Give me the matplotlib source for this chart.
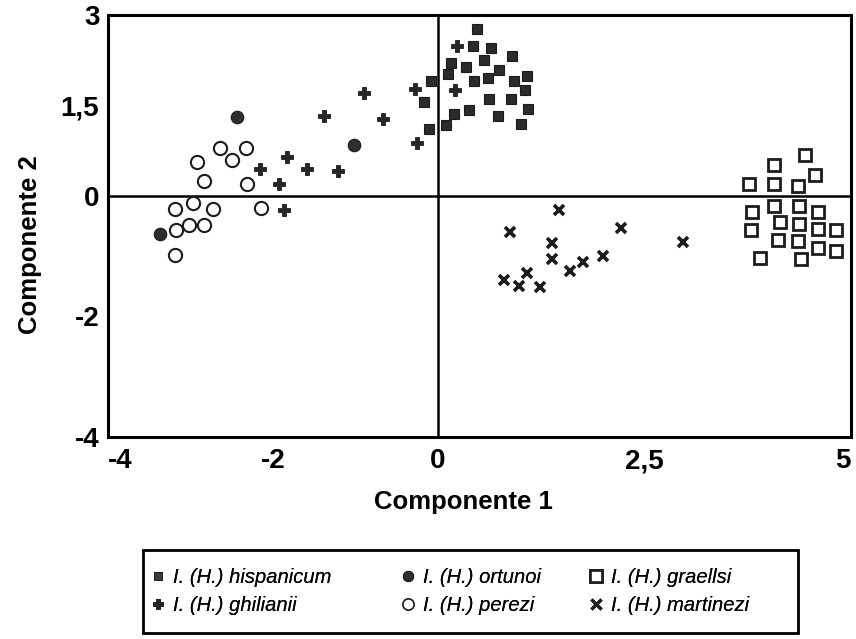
import matplotlib
matplotlib.use("Agg")
import matplotlib.pyplot as plt
from matplotlib.lines import Line2D
from matplotlib.patches import Rectangle
from matplotlib import font_manager as fm

# ---------------- data ----------------
hispanicum_x = [0.47, 0.42, 0.64, 0.90, 0.56, 0.16, 0.34, 0.74, 0.12, 1.08, 0.60, 0.44, 0.92,
                -0.09, 1.05, 0.62, 0.88, -0.17, 1.09, 0.38, 0.19, 0.72, 1.00, 0.10, -0.11]
hispanicum_y = [2.76, 2.48, 2.45, 2.32, 2.26, 2.21, 2.13, 2.09, 2.02, 1.98, 1.95, 1.90, 1.90,
                1.90, 1.76, 1.60, 1.60, 1.55, 1.44, 1.42, 1.36, 1.33, 1.20, 1.17, 1.11]

ghilianii_x = [0.23, -0.90, -0.28, 0.21, -1.38, -0.67, -0.25, -1.83, -2.16, -1.59, -1.21, -1.93, -1.87]
ghilianii_y = [2.49, 1.70, 1.78, 1.75, 1.32, 1.27, 0.87, 0.65, 0.44, 0.44, 0.41, 0.20, -0.23]

ortunoi_x = [-2.44, -1.02, -3.37]
ortunoi_y = [1.31, 0.85, -0.64]

perezi_x = [-2.64, -2.33, -2.92, -2.49, -2.83, -2.31, -2.97, -3.19, -2.73, -2.14, -3.02, -3.17, -2.83, -3.19]
perezi_y = [0.79, 0.79, 0.56, 0.60, 0.24, 0.19, -0.12, -0.21, -0.21, -0.20, -0.48, -0.57, -0.48, -0.98]

graellsi_x = [4.44, 4.07, 4.56, 3.76, 4.07, 4.36, 4.07, 4.37, 3.80, 4.60, 4.14, 4.37, 4.60, 3.79,
              4.82, 4.12, 4.36, 4.60, 4.82, 3.90, 4.39]
graellsi_y = [0.68, 0.51, 0.35, 0.19, 0.19, 0.17, -0.17, -0.17, -0.27, -0.27, -0.44, -0.46, -0.55, -0.57,
              -0.57, -0.73, -0.75, -0.86, -0.91, -1.03, -1.04]

martinezi_x = [1.46, 0.87, 2.21, 2.97, 1.38, 1.38, 2.00, 1.75, 1.60, 1.08, 0.80, 0.98, 1.23]
martinezi_y = [-0.24, -0.60, -0.53, -0.77, -0.79, -1.04, -1.00, -1.09, -1.24, -1.28, -1.40, -1.49, -1.52]

x_ticks = [-4, -2, 0, 2.5, 5]
x_ticklabels = ["-4", "-2", "0", "2,5", "5"]
y_ticks = [-4, -2, 0, 1.5, 3]
y_ticklabels = ["-4", "-2", "0", "1,5", "3"]

labels = ["I. (H.) hispanicum", "I. (H.) ghilianii", "I. (H.) ortunoi",
          "I. (H.) perezi", "I. (H.) graellsi", "I. (H.) martinezi"]

# ---------------- fonts ----------------
plt.rcParams['font.family'] = ['Liberation Sans', 'DejaVu Sans']
try:
    fm.findfont(fm.FontProperties(family='Liberation Sans Narrow', weight='bold'),
                fallback_to_default=False)
    bold_family = ['Liberation Sans Narrow', 'Liberation Sans']
    tick_size, label_size = 21, 21
except Exception:
    bold_family = ['Liberation Sans', 'DejaVu Sans']
    tick_size, label_size = 20, 18.5

# ---------------- figure ----------------
W, H = 856, 639
fig = plt.figure(figsize=(W / 100, H / 100), dpi=100)
L, R, T, B = 107.7, 851, 15, 437
ax = fig.add_axes([L / W, 1 - B / H, (R - L) / W, (B - T) / H])

ax.set_xlim(-4, 5)
ax.set_ylim(-4, 3)
ax.axhline(0, color='black', lw=1.8, zorder=1)
ax.axvline(0, color='black', lw=1.8, zorder=1)

ink = '#1c1c1c'
ax.plot(hispanicum_x, hispanicum_y, ls='none', marker='s', ms=7, mfc='#2b2b2b', mec=ink, mew=0.8, zorder=3)
ax.plot(ghilianii_x, ghilianii_y, ls='none', marker='P', ms=8.5, mfc='#262626', mec=ink, mew=0.6, zorder=3)
ax.plot(ortunoi_x, ortunoi_y, ls='none', marker='o', ms=9, mfc='#2e2e2e', mec=ink, mew=0.8, zorder=3)
ax.plot(perezi_x, perezi_y, ls='none', marker='o', ms=9.5, mfc='white', mec=ink, mew=1.5, zorder=3)
ax.plot(graellsi_x, graellsi_y, ls='none', marker='s', ms=8.5, mfc='white', mec=ink, mew=2.0, zorder=3)
ax.plot(martinezi_x, martinezi_y, ls='none', marker='x', ms=7, mec=ink, mew=2.6, zorder=3)

for s in ax.spines.values():
    s.set_linewidth(2.2)
    s.set_color('black')

ax.set_xticks(x_ticks)
ax.set_xticklabels(x_ticklabels)
ax.set_yticks(y_ticks)
ax.set_yticklabels(y_ticklabels)
ax.tick_params(axis='both', length=0, labelsize=tick_size)
ax.tick_params(axis='x', pad=8)
ax.tick_params(axis='y', pad=6)
for t in ax.get_xticklabels() + ax.get_yticklabels():
    t.set_fontweight('bold')
    t.set_family(bold_family)
xtl = ax.get_xticklabels()
xtl[0].set_horizontalalignment('left')
xtl[-1].set_horizontalalignment('right')

ax.set_xlabel("Componente 1", fontsize=label_size, fontweight='bold', family=bold_family)
ax.set_ylabel("Componente 2", fontsize=label_size, fontweight='bold', family=bold_family)
ax.xaxis.set_label_coords(0.479, -0.125)
ax.yaxis.set_label_coords(-0.088, 0.455)

# ---------------- legend ----------------
h_hisp = Line2D([], [], ls='none', marker='s', ms=5.5, mfc='#3a3a3a', mec=ink, mew=0.6)
h_ghil = Line2D([], [], ls='none', marker='P', ms=7.5, mfc='#262626', mec=ink, mew=0.5)
h_ortu = Line2D([], [], ls='none', marker='o', ms=7.5, mfc='#2e2e2e', mec=ink, mew=0.6)
h_pere = Line2D([], [], ls='none', marker='o', ms=8, mfc='white', mec=ink, mew=1.1)
h_grae = Line2D([], [], ls='none', marker='s', ms=8, mfc='white', mec=ink, mew=1.9)
h_mart = Line2D([], [], ls='none', marker='x', ms=6.5, mec=ink, mew=2.3)

leg_l, leg_r, leg_t, leg_b = 143, 798, 550, 633
fig.patches.append(Rectangle((leg_l / W, 1 - leg_b / H), (leg_r - leg_l) / W, (leg_b - leg_t) / H,
                             transform=fig.transFigure, fill=False, edgecolor='black', lw=2.0))

columns = [((h_hisp, h_ghil), (labels[0], labels[1]), 150),
           ((h_ortu, h_pere), (labels[2], labels[3]), 400),
           ((h_grae, h_mart), (labels[4], labels[5]), 588)]
for hs, ls_, xl in columns:
    lg = fig.legend(hs, ls_, loc='center left',
                    bbox_to_anchor=(xl / W, 1 - ((leg_t + leg_b) / 2) / H),
                    prop={'style': 'italic', 'size': 14.5}, frameon=False,
                    borderpad=0, borderaxespad=0, handlelength=0.8, handletextpad=0.35,
                    labelspacing=0.45)
    fig.add_artist(lg)

fig.savefig("out.png", dpi=100, facecolor='white')
